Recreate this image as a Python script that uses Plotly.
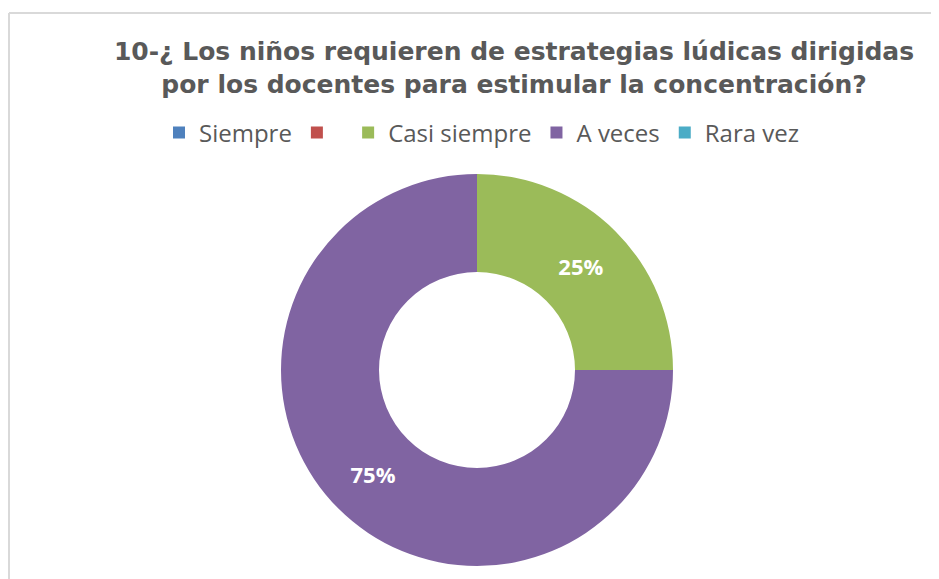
import plotly.graph_objects as go

categories = ["Siempre", " ", "Casi siempre", "A veces", "Rara vez"]
values = [0, 0, 25, 75, 0]
colors = ["#4F81BD", "#C0504D", "#9BBB59", "#8064A2", "#4BACC6"]
title_lines = ["10-¿ Los niños requieren de estrategias lúdicas dirigidas",
               "por los docentes para estimular la concentración?"]

W, H = 939, 579
OFF = 8  # page body margin
cx, cy, r = 477 - OFF, 370 - OFF, 196

fig = go.Figure(go.Pie(
    labels=categories,
    values=values,
    marker=dict(colors=colors, line=dict(width=0)),
    hole=0.5,
    sort=False,
    direction="clockwise",
    rotation=0,
    texttemplate="%{percent:.0%}",
    textposition="inside",
    insidetextorientation="horizontal",
    textfont=dict(family="Open Sans", size=22, color="white", weight="bold"),
    domain=dict(x=[(cx - r) / W, (cx + r) / W], y=[(H - cy - r) / H, (H - cy + r) / H]),
    showlegend=True,
    hoverinfo="label+percent",
))

fig.update_layout(
    width=W, height=H,
    margin=dict(l=0, r=0, t=0, b=0),
    paper_bgcolor="white",
    plot_bgcolor="white",
    title=dict(
        text="<br>".join(title_lines),
        x=(514 - OFF) / W, xanchor="center",
        y=1 - (60 - OFF) / H, yanchor="middle",
        font=dict(family="DejaVu Sans", size=25, color="#595959", weight="bold"),
    ),
    legend=dict(
        orientation="h",
        x=(482 - OFF) / W, xanchor="center",
        y=1 - (133 - OFF) / H, yanchor="middle",
        font=dict(family="Open Sans", size=24, color="#595959"),
        itemwidth=30,
        tracegroupgap=0,
    ),
    shapes=[
        dict(type="line", xref="paper", yref="paper", x0=1 / W, x1=1, y0=1 - 5 / H, y1=1 - 5 / H,
             line=dict(color="#D9D9D9", width=2)),
        dict(type="line", xref="paper", yref="paper", x0=1 / W, x1=1 / W, y0=0, y1=1 - 5 / H,
             line=dict(color="#D9D9D9", width=2)),
    ],
)

fig.write_html("out.html")
